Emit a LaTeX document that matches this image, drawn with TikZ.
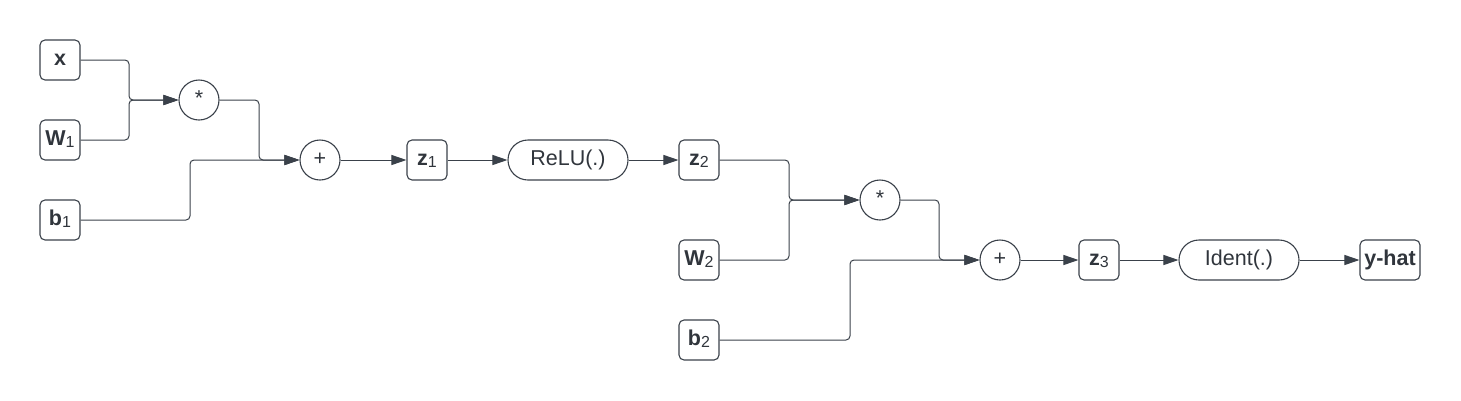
\documentclass[tikz,border=0pt]{standalone}
\usepackage{fontspec}
\setmainfont{Liberation Sans}
\usetikzlibrary{arrows.meta}
\definecolor{ln}{HTML}{3A414A}
\definecolor{tx}{HTML}{30353C}
\newcommand{\sbs}[1]{{\fontsize{16}{16}\selectfont\raisebox{-2pt}{#1}}}
\begin{document}
\begin{tikzpicture}[x=1pt,y=-1pt,
  every node/.style={font=\fontsize{21.5}{25}\selectfont, text=tx},
  box/.style={draw=ln, line width=1.1pt, rounded corners=5pt, minimum width=40pt, minimum height=40pt, inner sep=0pt, text height=10pt, text depth=0pt},
  op/.style={draw=ln, line width=1.1pt, circle, minimum size=40pt, inner sep=0pt, text height=10pt, text depth=0pt},
  fn/.style={draw=ln, line width=1.1pt, rounded corners=20pt, minimum width=120pt, minimum height=40pt, inner sep=0pt, text height=10pt, text depth=0pt},
  conn/.style={draw=ln, line width=1pt, rounded corners=4pt},
  arr/.style={conn, -{Triangle[length=15pt,width=10pt]}},
]
\useasboundingbox (0,0) rectangle (1461,400);
% layer 1
\node[box] (x)  at (60,60)  {\textbf{x}};
\node[box] (W1) at (60,140) {\textbf{W}\sbs{1}};
\node[box] (b1) at (60,220) {\textbf{b}\sbs{1}};
\node[op]  (m1) at (199,100) {*};
\node[op]  (a1) at (320,160) {+};
\node[box] (z1) at (427,160) {\textbf{z}\sbs{1}};
\node[fn]  (relu) at (568,160) {ReLU(.)};
\node[box] (z2) at (699,160) {\textbf{z}\sbs{2}};
% layer 2
\node[box] (W2) at (699,260) {\textbf{W}\sbs{2}};
\node[box] (b2) at (699,340) {\textbf{b}\sbs{2}};
\node[op]  (m2) at (880,200) {*};
\node[op]  (a2) at (1000,260) {+};
\node[box] (z3) at (1099,260) {\textbf{z}\sbs{3}};
\node[fn]  (id) at (1239,260) {Ident(.)};
\node[box, minimum width=60pt] (yh) at (1390,260) {\textbf{y-hat}};
% junctions
\coordinate (j1) at (129,100);
\coordinate (j2) at (259,160);
\coordinate (j3) at (190,160);
\coordinate (k1) at (789,200);
\coordinate (k2) at (939,260);
\coordinate (k3) at (850,260);
% connectors
\draw[arr] (x.east) -| (j1) -- (m1.west);
\draw[arr] (W1.east) -| (j1) -- (m1.west);
\draw[arr] (m1.east) -| (j2) -- (a1.west);
\draw[arr] (b1.east) -| (j3) -- (a1.west);
\draw[arr] (a1) -- (z1);
\draw[arr] (z1) -- (relu);
\draw[arr] (relu) -- (z2);
\draw[arr] (z2.east) -| (k1) -- (m2.west);
\draw[arr] (W2.east) -| (k1) -- (m2.west);
\draw[arr] (m2.east) -| (k2) -- (a2.west);
\draw[arr] (b2.east) -| (k3) -- (a2.west);
\draw[arr] (a2) -- (z3);
\draw[arr] (z3) -- (id);
\draw[arr] (id) -- (yh);
\end{tikzpicture}
\end{document}
